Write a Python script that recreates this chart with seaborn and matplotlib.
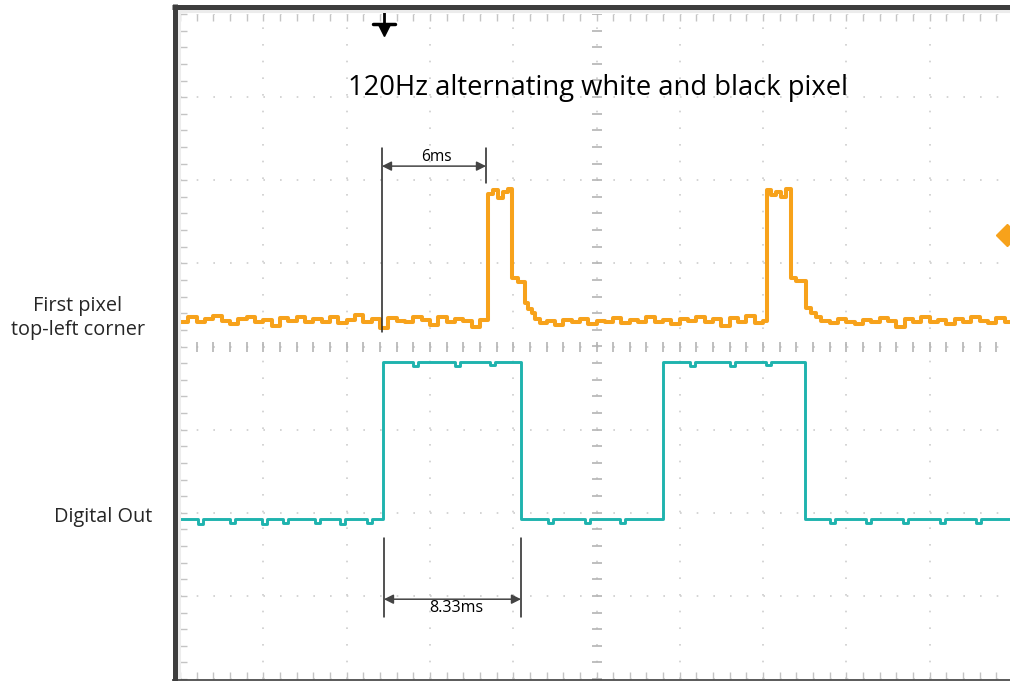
import numpy as np
import pandas as pd
import matplotlib
matplotlib.use("Agg")
import matplotlib.pyplot as plt
from matplotlib.lines import Line2D
from matplotlib.ticker import MultipleLocator
import seaborn as sns

# === DATA (time in ms, level in screen divisions) ===
orange_t = [0.0, 0.5, 1.0, 1.5, 2.0, 2.5, 3.0, 3.5, 4.0, 4.5, 5.0, 5.5, 6.0, 6.5, 7.0, 7.5,
            8.0, 8.5, 9.0, 9.5, 10.0, 10.5, 11.0, 11.5, 12.0, 12.5, 13.0, 13.5, 14.0, 14.5,
            15.0, 15.5, 16.0, 16.5, 17.0, 17.5, 18.0,
            18.49, 18.8, 19.1, 19.4, 19.7, 19.93, 20.3, 20.7, 20.9, 21.1, 21.3,
            21.6, 22.0, 22.5, 23.0, 23.5, 24.0, 24.5, 25.0, 25.5, 26.0, 26.5, 27.0, 27.5,
            28.0, 28.5, 29.0, 29.5, 30.0, 30.5, 31.0, 31.5, 32.0, 32.5, 33.0, 33.5, 34.0,
            34.5, 35.0,
            35.23, 35.5, 35.8, 36.1, 36.4, 36.67, 37.0, 37.6, 37.9, 38.2,
            38.5, 39.0, 39.5, 40.0, 40.5, 41.0, 41.5, 42.0, 42.5, 43.0, 43.5, 44.0, 44.5,
            45.0, 45.5, 46.0, 46.5, 47.0, 47.5, 48.0, 48.5, 49.0, 49.5, 50.0]
orange_v = [0.30, 0.35, 0.29, 0.33, 0.37, 0.31, 0.27, 0.33, 0.36, 0.30, 0.32, 0.25, 0.34, 0.31,
            0.36, 0.29, 0.33, 0.30, 0.35, 0.28, 0.32, 0.38, 0.30, 0.33, 0.22, 0.34, 0.31, 0.29,
            0.35, 0.32, 0.26, 0.36, 0.30, 0.33, 0.31, 0.24, 0.32,
            1.84, 1.88, 1.79, 1.86, 1.90, 0.82, 0.78, 0.52, 0.45, 0.40, 0.33,
            0.28, 0.31, 0.26, 0.32, 0.29, 0.33, 0.27, 0.31, 0.30, 0.34, 0.28, 0.32, 0.30,
            0.35, 0.29, 0.32, 0.27, 0.33, 0.31, 0.36, 0.29, 0.33, 0.25, 0.34, 0.30, 0.37,
            0.28, 0.31,
            1.88, 1.82, 1.86, 1.80, 1.89, 0.83, 0.79, 0.46, 0.40, 0.35,
            0.31, 0.28, 0.33, 0.30, 0.27, 0.32, 0.29, 0.34, 0.31, 0.24, 0.33, 0.30, 0.35,
            0.29, 0.32, 0.27, 0.33, 0.30, 0.36, 0.31, 0.28, 0.34, 0.30, 0.33]

cyan_t = [0.0, 1.1, 1.4, 3.0, 3.3, 4.9, 5.2, 6.2, 6.5, 8.1, 8.4, 9.6, 9.9, 11.2, 11.5,
          12.18, 14.0, 14.3, 16.5, 16.8, 18.6, 18.9,
          20.47, 22.1, 22.4, 24.3, 24.6, 26.4, 26.7,
          28.99, 30.6, 30.9, 33.0, 33.3, 35.2, 35.5,
          37.5, 39.0, 39.3, 41.2, 41.5, 43.4, 43.7, 45.6, 45.9, 47.8, 48.1, 50.0]
cyan_v = [-2.08, -2.13, -2.08, -2.12, -2.08, -2.13, -2.07, -2.12, -2.08, -2.12, -2.08, -2.13,
          -2.08, -2.12, -2.08,
          -0.19, -0.23, -0.19, -0.23, -0.19, -0.22, -0.19,
          -2.08, -2.12, -2.08, -2.12, -2.08, -2.12, -2.08,
          -0.19, -0.23, -0.19, -0.23, -0.19, -0.22, -0.19,
          -2.08, -2.12, -2.08, -2.12, -2.08, -2.12, -2.08, -2.12, -2.08, -2.12, -2.08, -2.08]

# markers / measurements
edge_6ms = (12.12, 18.37)
edge_833ms = (12.24, 20.47)
ground_t = 12.24
trig_t, trig_v = 49.64, 1.34

ORANGE = "#F7A21B"
CYAN = "#1FB3AE"
FRAME = "#3d3d3d"
GRID = "#cdcdcd"

sns.set_style("white")
plt.rcParams["font.family"] = ["Open Sans", "DejaVu Sans"]

W, H = 1010, 681
fig = plt.figure(figsize=(W / 100, H / 100), dpi=100, facecolor="white")
ax = fig.add_axes([180 / W, 2 / H, 833 / W, 665 / H])
ax.set_facecolor("white")

# === GRID & TICKS ===
ax.set_xlim(0, 50)
ax.set_ylim(-4, 4)
ax.xaxis.set_major_locator(MultipleLocator(5))
ax.xaxis.set_minor_locator(MultipleLocator(1))
ax.yaxis.set_major_locator(MultipleLocator(1))
ax.yaxis.set_minor_locator(MultipleLocator(0.2))
ax.grid(which="major", color=GRID, linestyle=(0, (1, 9)), lw=1.2)
ax.tick_params(which="both", direction="in", top=True, bottom=True, left=True, right=False,
               labelbottom=False, labelleft=False, color="#c4c4c4", length=5, width=1)
for s in ax.spines.values():
    s.set_visible(False)

minor_x = np.arange(0, 50.01, 1.0)
minor_y = np.arange(-4, 4.01, 0.2)
ax.plot(minor_x, np.zeros_like(minor_x), ls="none", marker="|", ms=7, mew=1.2,
        color="#b4b4b4", zorder=1)
ax.plot(np.full_like(minor_y, 25.0), minor_y, ls="none", marker="_", ms=7, mew=1.2,
        color="#b4b4b4", zorder=1)

# === TRACES ===
df_o = pd.DataFrame({"t": orange_t, "v": orange_v})
df_c = pd.DataFrame({"t": cyan_t, "v": cyan_v})
sns.lineplot(data=df_o, x="t", y="v", ax=ax, color=ORANGE, lw=2.9, drawstyle="steps-post",
             estimator=None, sort=False, zorder=3)
sns.lineplot(data=df_c, x="t", y="v", ax=ax, color=CYAN, lw=2.1, drawstyle="steps-post",
             estimator=None, sort=False, zorder=3)
ax.set_xlabel("")
ax.set_ylabel("")

# trigger level marker (cut at the screen edge)
ax.plot([trig_t], [trig_v], marker="D", ms=11, color=ORANGE, clip_on=False, zorder=4)

# ground marker
ax.plot([ground_t, ground_t], [4.02, 3.88], color="black", lw=2, clip_on=False, zorder=5)
ax.plot([ground_t - 0.66, ground_t + 0.66], [3.88, 3.88], color="black", lw=2.5,
        clip_on=False, zorder=5)
ax.plot([ground_t], [3.81], marker="v", ms=9, color="black", clip_on=False, zorder=5)

# === MEASUREMENTS ===
ax.plot([edge_6ms[0]] * 2, [2.39, 0.18], color="#222222", lw=1.1, zorder=4)
ax.plot([edge_6ms[1]] * 2, [2.39, 1.97], color="#222222", lw=1.1, zorder=4)
ax.annotate("", xy=(edge_6ms[1], 2.17), xytext=(edge_6ms[0], 2.17),
            arrowprops=dict(arrowstyle="<|-|>", color="#444444", lw=1.1,
                            mutation_scale=14, shrinkA=0, shrinkB=0), zorder=4)
ax.text(15.4, 2.28, "6ms", ha="center", va="center", fontsize=11.2, color="black")

ax.plot([edge_833ms[0]] * 2, [-2.30, -3.26], color="#222222", lw=1.1, zorder=4)
ax.plot([edge_833ms[1]] * 2, [-2.30, -3.26], color="#222222", lw=1.1, zorder=4)
ax.annotate("", xy=(edge_833ms[1], -3.04), xytext=(edge_833ms[0], -3.04),
            arrowprops=dict(arrowstyle="<|-|>", color="#444444", lw=1.1,
                            mutation_scale=14, shrinkA=0, shrinkB=0), zorder=4)
ax.text(16.57, -3.15, "8.33ms", ha="center", va="center", fontsize=11.6, color="black")

# === TITLE ===
ax.text(25.1, 3.03, "120Hz alternating white and black pixel", ha="center", va="baseline",
        fontsize=19.7, color="black")

# === CHANNEL LABELS ===
fig.text(78 / W, 1 - 318 / H, "First pixel\ntop-left corner", ha="center", va="center",
         fontsize=14.3, linespacing=1.3)
fig.text(103 / W, 1 - 517 / H, "Digital Out", ha="center", va="center", fontsize=14.3)

# === SCREEN FRAME ===
def fline(x0, y0, x1, y1, lw, color):
    fig.add_artist(Line2D([x0 / W, x1 / W], [1 - y0 / H, 1 - y1 / H], lw=lw, color=color,
                          transform=fig.transFigure, solid_capstyle="butt"))

fline(179, 11, 179, 681, 2.2, "#ececec")
fline(177, 11, W, 11, 2.2, "#ececec")
fline(174.5, 4, 174.5, 681, 3.6, FRAME)
fline(172, 6.5, W, 6.5, 3.6, FRAME)
fline(172, 680.2, W, 680.2, 1.2, FRAME)

plt.savefig("out.png", dpi=100)
plt.close()
